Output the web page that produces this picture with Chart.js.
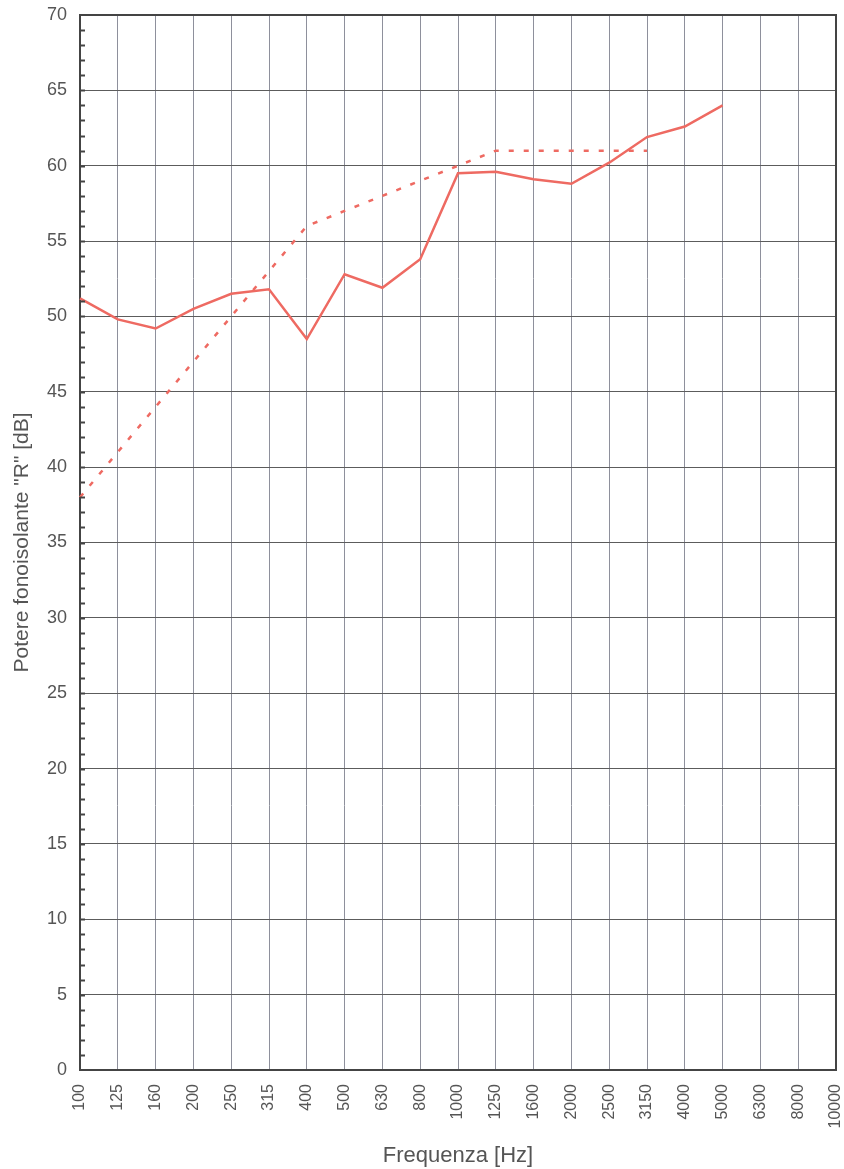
<!DOCTYPE html>
<html>
<head>
<meta charset="utf-8">
<script src="https://cdn.jsdelivr.net/npm/chart.js@4"></script>
<style>
  html, body { margin: 0; padding: 0; background: #fff; }
  #wrap { width: 844px; height: 1169px; }
</style>
</head>
<body>
<div id="wrap"><canvas id="graficoR"></canvas></div>
<script>
// Frequenze di terzo d'ottava (Hz)
const frequenze = ['100', '125', '160', '200', '250', '315', '400', '500', '630', '800',
  '1000', '1250', '1600', '2000', '2500', '3150', '4000', '5000', '6300', '8000', '10000'];

// Potere fonoisolante misurato R' (dB)
const misurato = [51.2, 49.8, 49.2, 50.5, 51.5, 51.8, 48.5, 52.8, 51.9, 53.8,
  59.5, 59.6, 59.1, 58.8, 60.2, 61.9, 62.6, 64.0, null, null, null];

// Curva di riferimento traslata (dB)
const riferimento = [38, 41, 44, 47, 50, 53, 56, 57, 58, 59,
  60, 61, 61, 61, 61, 61, null, null, null, null, null];

const coloreLinea = '#ee6a62';
const coloreTesto = '#555555';

// cornice superiore/destra + tacche secondarie (ogni 1 dB) dentro l'asse verticale
const tacchePlugin = {
  id: 'tacche',
  afterDraw(chart) {
    const y = chart.scales.y;
    const a = chart.chartArea;
    const ctx = chart.ctx;
    ctx.save();
    ctx.strokeStyle = '#444';
    ctx.lineWidth = 2;
    ctx.beginPath();
    ctx.moveTo(a.left, a.top);
    ctx.lineTo(a.right, a.top);
    ctx.lineTo(a.right, a.bottom);
    ctx.stroke();
    for (let v = 1; v < 70; v++) {
      const py = Math.round(y.getPixelForValue(v)) + 0.5;
      ctx.beginPath();
      ctx.moveTo(a.left, py);
      ctx.lineTo(a.left + 5, py);
      ctx.stroke();
    }
    ctx.restore();
  }
};

const ctx = document.getElementById('graficoR').getContext('2d');
new Chart(ctx, {
  type: 'line',
  data: {
    labels: frequenze,
    datasets: [{
      label: "R'",
      data: misurato,
      borderColor: coloreLinea,
      borderWidth: 2.5,
      pointRadius: 0,
      tension: 0,
      fill: false
    }, {
      label: 'Riferimento',
      data: riferimento,
      borderColor: coloreLinea,
      borderWidth: 2.5,
      borderDash: [5, 10],
      pointRadius: 0,
      tension: 0,
      fill: false
    }]
  },
  options: {
    responsive: true,
    maintainAspectRatio: false,
    animation: false,
    layout: { padding: { top: 15, right: 8, left: 0, bottom: 0 } },
    plugins: {
      legend: { display: false },
      tooltip: { enabled: false }
    },
    scales: {
      x: {
        offset: false,
        afterFit(scale) {
          scale.height = 99;
          scale.paddingLeft = 0;
          scale.paddingRight = 0;
        },
        border: { display: true, color: '#444', width: 2 },
        grid: { color: '#8e909c', lineWidth: 1, drawTicks: false },
        ticks: {
          color: coloreTesto,
          font: { family: 'Liberation Sans', size: 16 },
          minRotation: 90,
          maxRotation: 90,
          padding: 14,
          autoSkip: false
        },
        title: {
          display: true,
          text: 'Frequenza [Hz]',
          color: coloreTesto,
          font: { family: 'Liberation Sans', size: 22 },
          padding: { top: 0, bottom: 0 }
        }
      },
      y: {
        min: 0,
        max: 70,
        afterFit(scale) {
          scale.width = 80;
          scale.paddingTop = 0;
          scale.paddingBottom = 0;
        },
        border: { display: true, color: '#444', width: 2 },
        grid: { color: '#5c5c5c', lineWidth: 1, drawTicks: false },
        ticks: {
          stepSize: 5,
          color: coloreTesto,
          font: { family: 'Liberation Sans', size: 18 },
          padding: 13
        },
        title: {
          display: true,
          text: 'Potere fonoisolante "R" [dB]',
          color: coloreTesto,
          font: { family: 'Liberation Sans', size: 21 },
          padding: { top: 10, bottom: 0 }
        }
      }
    }
  },
  plugins: [tacchePlugin]
});
</script>
</body>
</html>
